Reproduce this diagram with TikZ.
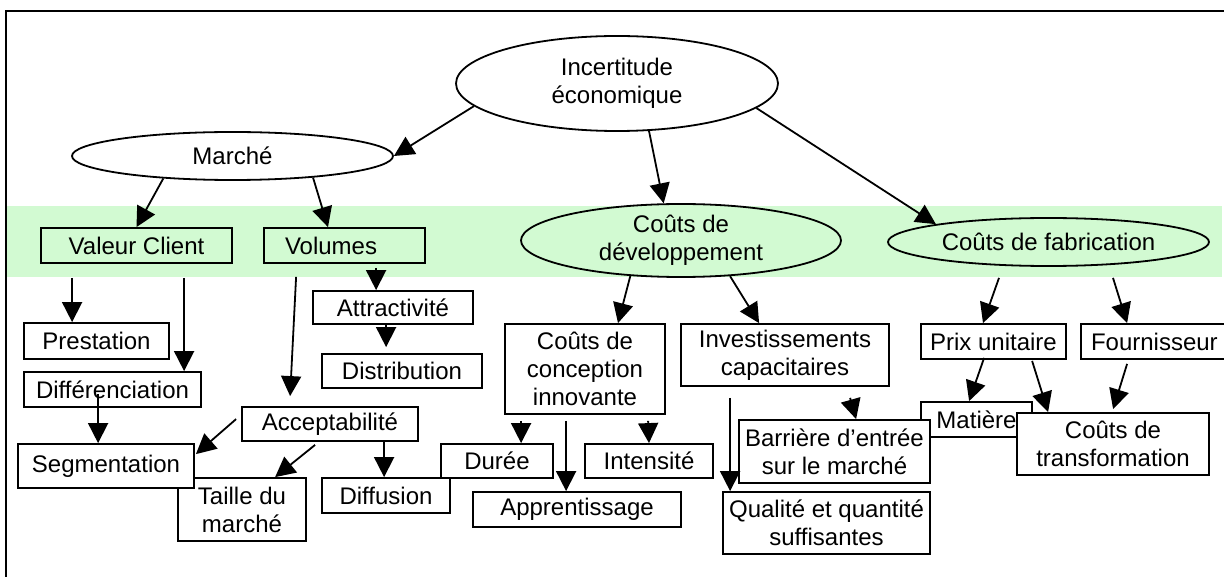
\documentclass[tikz,border=0pt]{standalone}
\usepackage{fontspec}
\setmainfont{Liberation Sans}
\usetikzlibrary{calc,shapes.geometric,arrows.meta}
\definecolor{vertclair}{RGB}{210,250,210}
\begin{document}
\begin{tikzpicture}[
  x = 1pt, y = -1pt, line width = 1.8pt,
  every node/.style = {font = \fontsize{24}{28}\selectfont, align = center, inner sep = 0pt},
  dims/.style 2 args = {minimum width = #1pt, minimum height = #2pt},
  boite/.style = {draw, rectangle, fill = white},
  bulle/.style = {draw, ellipse, fill = white},
  fleche/.style = {-{Triangle[length = 20pt, width = 20pt]}}
  ]
  \useasboundingbox (0,0) rectangle (1224,577);
  \fill[vertclair] (7,206) rectangle (1222,277);
  \draw (1224,11) -- (6,11) -- (6,577);

  \node[bulle, dims = {322}{95}] (inc) at (617,83.5) {Incertitude\\économique};
  \node[bulle, dims = {321}{48}] (mar) at (232.5,156) {Marché};
  \node[bulle, fill = vertclair, dims = {320}{73}] (dev) at (681,240.5) {Coûts de\\développement};
  \node[bulle, fill = vertclair, dims = {321}{48}] (fab) at (1048.5,242) {Coûts de fabrication};

  \node[boite, fill = vertclair, dims = {191}{35}] (vc) at (136.5,245.5) {Valeur Client};
  \node[boite, fill = vertclair, dims = {161}{35}, inner xsep = 21pt, text width = 119pt, align = left] (vol) at (344.5,245.5) {Volumes};
  \node[boite, dims = {160}{33}] (attr) at (393,307.5) {Attractivité};
  \node[boite, dims = {160}{34}] (dist) at (402,371) {Distribution};
  \node[boite, dims = {145}{36}] (prest) at (96.5,341) {Prestation};
  \node[boite, dims = {177}{35}] (differ) at (112.5,389.5) {Différenciation};
  \node[boite, dims = {176}{34}] (acc) at (330,424) {Acceptabilité};
  \node[boite, dims = {128}{63}] (taille) at (242,509.5) {Taille du\\marché};
  \node[boite, dims = {176}{44}] (seg) at (106,466) {Segmentation};
  \node[boite, dims = {112}{34}] (duree) at (497,461) {Durée};
  \node[boite, dims = {128}{35}] (diffus) at (386,495.5) {Diffusion};
  \node[boite, dims = {160}{90}] (conc) at (585,369) {Coûts de\\conception\\innovante};
  \node[boite, dims = {128}{34}] (intens) at (649,461) {Intensité};
  \node[boite, dims = {208}{35}] (appr) at (577,509.5) {Apprentissage};
  \node[boite, dims = {208}{62}] (inv) at (785,355) {Investissements\\capacitaires};
  \node[boite, dims = {111}{35}] (mat) at (976.5,419.5) {Matière};
  \node[boite, dims = {191}{63}] (barr) at (834.5,451.5) {Barrière d’entrée\\sur le marché};
  \node[boite, dims = {207}{62}] (qual) at (826.5,523) {Qualité et quantité\\suffisantes};
  \node[boite, dims = {145}{35}] (prix) at (993.5,341.5) {Prix unitaire};
  \node[boite, dims = {150}{35}, inner xsep = 10pt, text width = 130pt, align = left] (four) at (1156,341.5) {Fournisseur};
  \node[boite, dims = {192}{62}] (trans) at (1113,444) {Coûts de\\transformation};

  \draw[fleche] (inc.189.5) -- (mar.east);
  \draw[fleche] (inc.304.5) -- (dev.115.1);
  \draw[fleche] (inc.350.3) -- (fab.171.7);
  \draw[fleche] (mar.198.8) -- (vc.north);
  \draw[fleche] (mar.345.3) -- ($(vol.north)+(-16.5,0)$);

  \draw[fleche] ($(vc.south west)+(32,14)$) -- ($(prest.north west)+(49,0)$);
  \draw[fleche] ($(vc.south west)+(144,14)$) -- ($(differ.north west)+(161,0)$);
  \draw[fleche] ($(differ.south west)+(75,-14)$) -- ($(seg.north west)+(81,0)$);
  \draw[fleche] ($(vol.south west)+(33,13)$) -- ($(acc.north west)+(49,-10)$);
  \draw[fleche] ($(vol.south west)+(113,4)$) -- ($(attr.north west)+(64,0)$);
  \draw[fleche] ($(attr.south west)+(74,0)$) -- ($(dist.north west)+(65,-6)$);
  \draw[fleche] ($(acc.north west)+(-5,13)$) -- ($(seg.north east)+(1,11)$);
  \draw[fleche] ($(acc.south west)+(74,3)$) -- ($(taille.north west)+(98,0)$);
  \draw[fleche] ($(acc.south west)+(143,0)$) -- ($(diffus.north west)+(63,0)$);

  \draw[fleche] (dev.215.9) -- ($(conc.north)+(33,0)$);
  \draw[fleche] (dev.324.1) -- ($(inv.north west)+(79,0)$);
  \draw[fleche] ($(conc.south west)+(17,6)$) -- ($(duree.north west)+(81,0)$);
  \draw[fleche] ($(conc.south west)+(62,6)$) -- ($(appr.north west)+(94,0)$);
  \draw[fleche] ($(conc.south west)+(144,6)$) -- (intens.north);
  \draw[fleche] ($(inv.south west)+(50,11)$) -- ($(qual.north west)+(8,0)$);
  \draw[fleche] ($(inv.south west)+(170,11)$) -- ($(barr.north west)+(118,0)$);

  \draw[fleche] ($(fab.south)+(-49.5,11)$) -- ($(prix.north)+(-10.5,0)$);
  \draw[fleche] ($(fab.south)+(64.5,11)$) -- ($(four.north west)+(47,0)$);
  \draw[fleche] ($(prix.south west)+(64,-2)$) -- ($(mat.north west)+(49,0)$);
  \draw[fleche] ($(prix.south west)+(112,1)$) -- ($(trans.north west)+(32,0)$);
  \draw[fleche] ($(four.south west)+(47,4)$) -- ($(trans.north west)+(97,-3)$);
\end{tikzpicture}
\end{document}
